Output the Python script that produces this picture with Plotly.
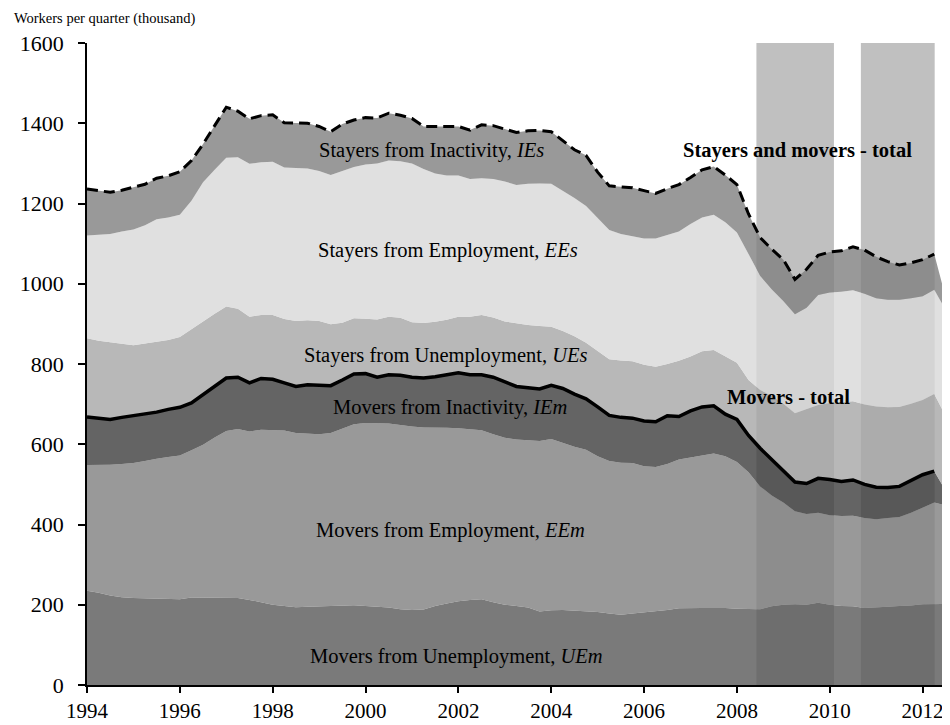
import plotly.graph_objects as go

# quarterly observations 1994Q1 .. 2012Q2
quarters = [1994 + 0.25 * i for i in range(74)]

# cumulative levels (thousand workers per quarter)
level_UEm = [235, 230, 223, 219, 217, 216, 215, 215, 214, 218, 218, 218,
             218, 217, 212, 206, 200, 197, 194, 195, 196, 196, 197, 199,
             197, 195, 193, 189, 187, 188, 197, 203, 209, 212, 214, 206,
             200, 197, 193, 183, 186, 187, 185, 183, 182, 178, 175, 178,
             181, 183, 187, 191, 192, 192, 192, 192, 190, 189, 189, 196,
             200, 201, 200, 205, 200, 197, 196, 192, 193, 195, 197, 198,
             201, 202]
level_EEm = [548, 548, 549, 551, 553, 558, 564, 568, 572, 585, 599, 617,
             633, 638, 632, 636, 635, 634, 628, 626, 625, 628, 640, 650,
             653, 652, 652, 648, 644, 642, 642, 641, 640, 637, 635, 625,
             616, 612, 610, 608, 613, 603, 594, 586, 570, 558, 554, 553,
             545, 543, 551, 562, 567, 573, 577, 570, 556, 530, 495, 472,
             455, 433, 426, 429, 423, 421, 422, 416, 413, 416, 419, 429,
             441, 455]
movers_total = [668, 664, 662, 667, 671, 674, 680, 687, 692, 703, 724, 743,
                765, 767, 753, 764, 762, 753, 744, 748, 747, 746, 760, 775,
                776, 767, 773, 772, 767, 765, 768, 772, 778, 773, 773, 767,
                755, 744, 741, 738, 747, 739, 725, 713, 693, 672, 667, 665,
                658, 656, 671, 669, 683, 693, 696, 675, 662, 622, 590, 562,
                535, 506, 502, 515, 512, 507, 511, 500, 493, 492, 495, 510,
                524, 533]
level_UEs = [864, 858, 854, 850, 847, 851, 855, 860, 867, 887, 906, 925,
             943, 938, 918, 922, 922, 912, 907, 909, 907, 899, 903, 914,
             913, 911, 918, 915, 904, 902, 905, 910, 918, 918, 922, 916,
             906, 901, 897, 895, 893, 882, 869, 853, 832, 812, 809, 807,
             798, 793, 800, 808, 819, 832, 835, 818, 803, 760, 735, 720,
             701, 677, 687, 698, 703, 705, 707, 699, 694, 692, 693, 701,
             710, 725]
level_EEs = [1120, 1122, 1124, 1130, 1135, 1146, 1161, 1165, 1172, 1207, 1253, 1284,
             1314, 1315, 1299, 1303, 1304, 1290, 1289, 1287, 1281, 1271, 1281, 1291,
             1297, 1300, 1307, 1305, 1300, 1286, 1275, 1270, 1270, 1261, 1263, 1261,
             1255, 1246, 1249, 1250, 1249, 1232, 1214, 1194, 1164, 1134, 1124, 1119,
             1113, 1113, 1121, 1130, 1149, 1165, 1172, 1153, 1128, 1074, 1020, 986,
             957, 924, 940, 972, 978, 980, 984, 975, 964, 960, 960, 964,
             969, 985]
total_all = [1236, 1232, 1228, 1233, 1240, 1248, 1263, 1269, 1279, 1307, 1348, 1394,
             1440, 1430, 1411, 1419, 1421, 1401, 1401, 1400, 1392, 1379, 1398, 1408,
             1414, 1413, 1425, 1420, 1412, 1392, 1392, 1392, 1392, 1383, 1396, 1394,
             1386, 1377, 1381, 1382, 1379, 1357, 1334, 1320, 1278, 1244, 1242, 1239,
             1232, 1225, 1237, 1247, 1265, 1284, 1292, 1271, 1247, 1174, 1115, 1086,
             1060, 1011, 1036, 1071, 1079, 1082, 1092, 1084, 1067, 1055, 1047, 1052,
             1060, 1074]

# levels where the areas are cut by the right edge of the chart
x_edge = 2012.59
edge_UEm, edge_EEm, edge_movers, edge_UEs, edge_EEs, edge_total = 202, 445, 465, 650, 915, 925

# recession periods (shaded)
recessions = [(2008.42, 2010.09), (2010.67, 2012.26)]

tick_years = list(range(1994, 2013, 2))

SERIF = "Liberation Serif, Times New Roman, Times, serif"
fig = go.Figure()

xa = quarters + [x_edge]
layers = [
    (level_UEm + [edge_UEm], "rgba(89,89,89,0.8)", "tozeroy"),
    (level_EEm + [edge_EEm], "rgba(128,128,128,0.8)", "tonexty"),
    (movers_total + [edge_movers], "rgba(61,61,61,0.8)", "tonexty"),
    (level_UEs + [edge_UEs], "rgba(166,166,166,0.8)", "tonexty"),
    (level_EEs + [edge_EEs], "rgba(216,216,216,0.8)", "tonexty"),
    (total_all + [edge_total], "rgba(128,128,128,0.8)", "tonexty"),
]
for ys, col, fl in layers:
    fig.add_trace(go.Scatter(x=xa, y=ys, mode="lines", fill=fl, fillcolor=col,
                             line=dict(width=0), hoverinfo="skip", showlegend=False))

fig.add_trace(go.Scatter(x=quarters, y=movers_total, mode="lines",
                         line=dict(color="black", width=3.5), showlegend=False))
fig.add_trace(go.Scatter(x=quarters, y=total_all, mode="lines",
                         line=dict(color="black", width=3, dash="11px,6px"), showlegend=False))

for x0, x1 in recessions:
    fig.add_shape(type="rect", xref="x", yref="y", x0=x0, x1=x1, y0=0, y1=1600,
                  fillcolor="#c0c0c0", line=dict(width=0), layer="below")

lab_font = dict(family=SERIF, size=20.5, color="black")
labels = [
    (2001.43, 1332, "Stayers from Inactivity, <i>IEs</i>"),
    (2001.78, 1082, "Stayers from Employment, <i>EEs</i>"),
    (2001.73, 822, "Stayers from Unemployment, <i>UEs</i>"),
    (2001.82, 692, "Movers from Inactivity, <i>IEm</i>"),
    (2001.82, 385, "Movers from Employment, <i>EEm</i>"),
    (2001.95, 72, "Movers from Unemployment, <i>UEm</i>"),
    (2009.31, 1332, "<b>Stayers and movers - total</b>"),
    (2009.12, 717, "<b>Movers - total</b>"),
]
for x, y, t in labels:
    fig.add_annotation(x=x, y=y, xref="x", yref="y", text=t, showarrow=False,
                       font=lab_font, xanchor="center", yanchor="middle")

# the page body adds an 8px offset; figure coordinates below compensate for it
L, T, PW, PH = 79, 35, 863, 642
fig.add_annotation(x=(4 - L) / PW, y=(T + PH) / PH, xref="paper", yref="paper",
                   text="Workers per quarter (thousand)", showarrow=False,
                   font=dict(family=SERIF, size=14.5, color="black"),
                   xanchor="left", yanchor="top")

fig.update_layout(
    width=942, height=717,
    margin=dict(l=L, r=0, t=T, b=717 - T - PH),
    plot_bgcolor="white", paper_bgcolor="white",
    showlegend=False,
    xaxis=dict(range=[1994, x_edge], tickvals=tick_years, ticks="outside", ticklen=6,
               tickwidth=1.5, tickcolor="black", showline=True, linecolor="black",
               linewidth=1.5, showgrid=False, zeroline=False,
               tickfont=dict(family=SERIF, size=21, color="black")),
    yaxis=dict(range=[0, 1600], dtick=200, ticks="outside", ticklen=7, tickwidth=1.5,
               tickcolor="black", showline=True, linecolor="black", linewidth=1.5,
               showgrid=False, zeroline=False, ticklabelstandoff=10,
               tickfont=dict(family=SERIF, size=22, color="black")),
)

fig.write_html("out.html")
